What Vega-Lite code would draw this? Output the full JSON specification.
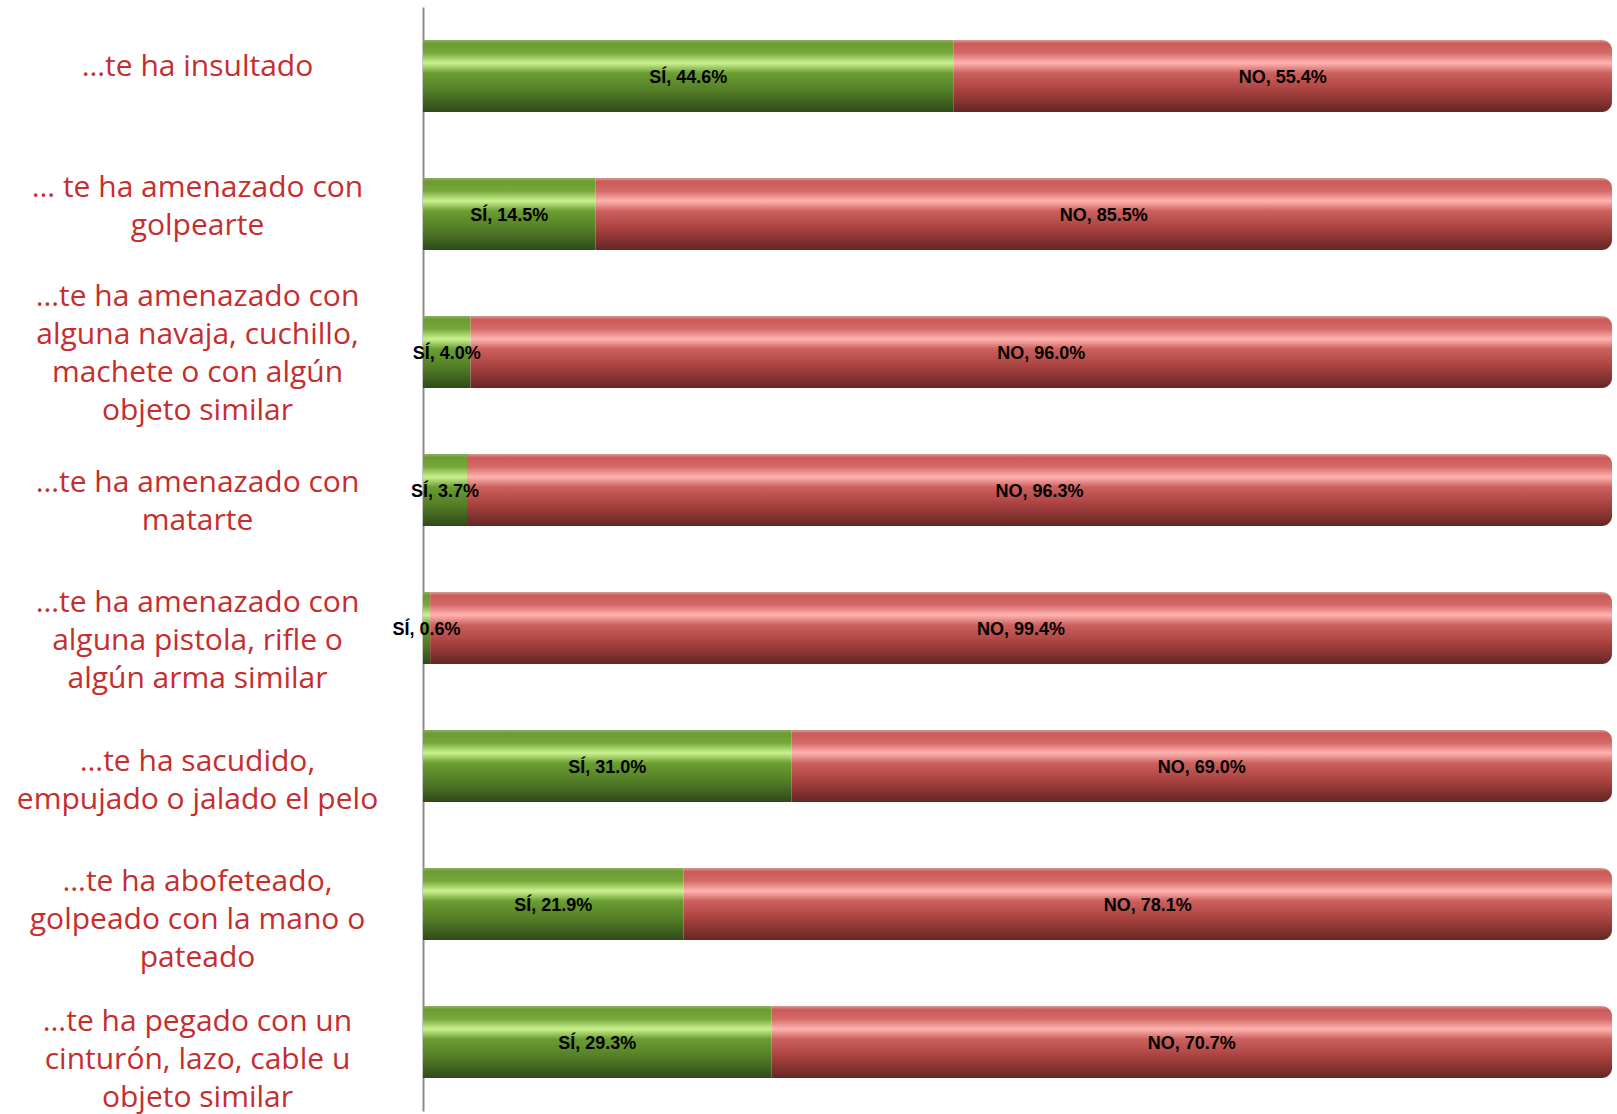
{
  "$schema": "https://vega.github.io/schema/vega-lite/v6.json",
  "width": 1189,
  "height": 1104,
  "autosize": {"type": "none"},
  "padding": {"left": 423, "top": 7, "right": 5, "bottom": 3},
  "background": "white",
  "config": {"view": {"stroke": null}},
  "data": {
    "values": [
      {"item": "…te ha insultado", "answer": "SÍ", "value": 44.6},
      {"item": "…te ha insultado", "answer": "NO", "value": 55.4},
      {"item": "… te ha amenazado con|golpearte", "answer": "SÍ", "value": 14.5},
      {"item": "… te ha amenazado con|golpearte", "answer": "NO", "value": 85.5},
      {"item": "…te ha amenazado con|alguna navaja, cuchillo,|machete o con algún|objeto similar", "answer": "SÍ", "value": 4.0},
      {"item": "…te ha amenazado con|alguna navaja, cuchillo,|machete o con algún|objeto similar", "answer": "NO", "value": 96.0},
      {"item": "…te ha amenazado con|matarte", "answer": "SÍ", "value": 3.7},
      {"item": "…te ha amenazado con|matarte", "answer": "NO", "value": 96.3},
      {"item": "…te ha amenazado con|alguna pistola, rifle o|algún arma similar", "answer": "SÍ", "value": 0.6},
      {"item": "…te ha amenazado con|alguna pistola, rifle o|algún arma similar", "answer": "NO", "value": 99.4},
      {"item": "…te ha sacudido,|empujado o jalado el pelo", "answer": "SÍ", "value": 31.0},
      {"item": "…te ha sacudido,|empujado o jalado el pelo", "answer": "NO", "value": 69.0},
      {"item": "…te ha abofeteado,|golpeado con la mano o|pateado", "answer": "SÍ", "value": 21.9},
      {"item": "…te ha abofeteado,|golpeado con la mano o|pateado", "answer": "NO", "value": 78.1},
      {"item": "…te ha pegado con un|cinturón, lazo, cable u|objeto similar", "answer": "SÍ", "value": 29.3},
      {"item": "…te ha pegado con un|cinturón, lazo, cable u|objeto similar", "answer": "NO", "value": 70.7}
    ]
  },
  "transform": [
    {"stack": "value", "groupby": ["item"], "sort": [{"field": "answer", "order": "descending"}], "offset": "normalize", "as": ["x0", "x1"]}
  ],
  "encoding": {
    "y": {
      "field": "item",
      "type": "nominal",
      "sort": null,
      "scale": {"paddingInner": 0.478, "paddingOuter": 0.239},
      "axis": {
        "title": null,
        "domainColor": "#8c8c8c",
        "domainWidth": 2,
        "ticks": false,
        "labelAlign": "center",
        "labelBaseline": "middle",
        "labelPadding": 226,
        "labelFont": "Open Sans",
        "labelFontSize": 30,
        "labelColor": "#C62D2D",
        "labelLimit": 600,
        "labelLineHeight": 38,
        "labelOffset": {
          "condition": [
            {"test": "datum.value == '…te ha insultado'", "value": -9},
            {"test": "datum.value == '… te ha amenazado con|golpearte'", "value": -26},
            {"test": "datum.value == '…te ha amenazado con|alguna navaja, cuchillo,|machete o con algún|objeto similar'", "value": -55},
            {"test": "datum.value == '…te ha amenazado con|matarte'", "value": -7},
            {"test": "datum.value == '…te ha amenazado con|alguna pistola, rifle o|algún arma similar'", "value": -25},
            {"test": "datum.value == '…te ha sacudido,|empujado o jalado el pelo'", "value": -4},
            {"test": "datum.value == '…te ha abofeteado,|golpeado con la mano o|pateado'", "value": -22}
          ],
          "value": -20
        },
        "labelExpr": "split(datum.label, '|')"
      }
    }
  },
  "layer": [
    {
      "transform": [{"filter": "datum.answer == 'SÍ'"}],
      "mark": {
        "type": "bar",
        "fill": {
          "gradient": "linear", "x1": 0, "y1": 0, "x2": 0, "y2": 1,
          "stops": [
            {"offset": 0, "color": "#8fb060"},
            {"offset": 0.05, "color": "#6c9c31"},
            {"offset": 0.18, "color": "#76a83a"},
            {"offset": 0.32, "color": "#caf290"},
            {"offset": 0.46, "color": "#6a9d31"},
            {"offset": 0.7, "color": "#547f27"},
            {"offset": 1, "color": "#2f4a1a"}
          ]
        }
      },
      "encoding": {
        "x": {"field": "x0", "type": "quantitative", "scale": {"domain": [0, 1]}, "axis": null},
        "x2": {"field": "x1"}
      }
    },
    {
      "transform": [{"filter": "datum.answer == 'NO'"}],
      "mark": {
        "type": "bar",
        "cornerRadiusTopRight": 10,
        "cornerRadiusBottomRight": 10,
        "fill": {
          "gradient": "linear", "x1": 0, "y1": 0, "x2": 0, "y2": 1,
          "stops": [
            {"offset": 0, "color": "#d99a98"},
            {"offset": 0.05, "color": "#cb5a58"},
            {"offset": 0.18, "color": "#d46a68"},
            {"offset": 0.32, "color": "#ffb3b1"},
            {"offset": 0.46, "color": "#cc605d"},
            {"offset": 0.7, "color": "#a9423f"},
            {"offset": 1, "color": "#642624"}
          ]
        }
      },
      "encoding": {
        "x": {"field": "x0", "type": "quantitative", "scale": {"domain": [0, 1]}, "axis": null},
        "x2": {"field": "x1"}
      }
    },
    {
      "transform": [
        {"calculate": "(datum.x0 + datum.x1) / 2", "as": "mid"},
        {"calculate": "datum.answer + ', ' + format(datum.value, '.1f') + '%'", "as": "label"}
      ],
      "mark": {
        "type": "text",
        "font": "Liberation Sans",
        "fontWeight": "bold",
        "fontSize": 18,
        "color": "#000000",
        "align": "center",
        "baseline": "middle",
        "dy": 2
      },
      "encoding": {
        "x": {"field": "mid", "type": "quantitative", "scale": {"domain": [0, 1]}, "axis": null},
        "text": {"field": "label", "type": "nominal"}
      }
    }
  ]
}
